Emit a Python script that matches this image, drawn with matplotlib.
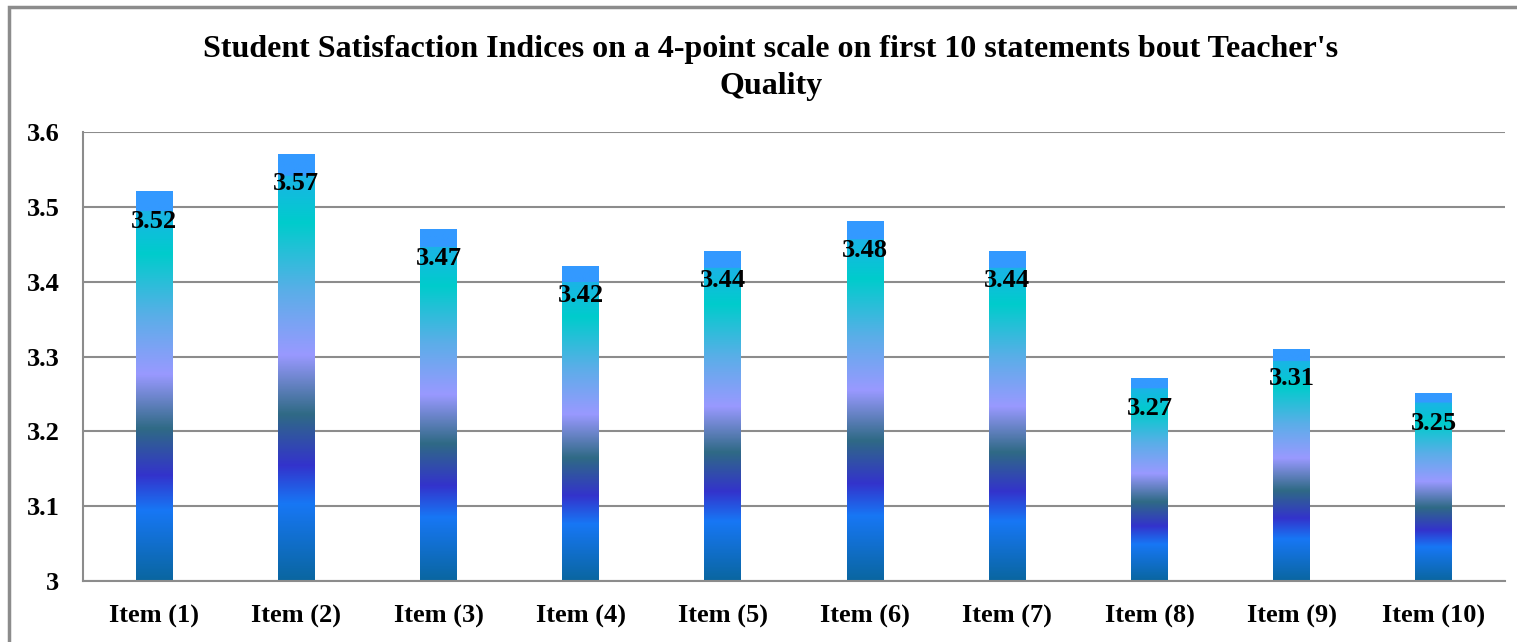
import numpy as np
import matplotlib.pyplot as plt
from matplotlib.colors import LinearSegmentedColormap
from matplotlib.patches import Rectangle

# Data
items = ['Item (1)', 'Item (2)', 'Item (3)', 'Item (4)', 'Item (5)',
         'Item (6)', 'Item (7)', 'Item (8)', 'Item (9)', 'Item (10)']
scores = [3.52, 3.57, 3.47, 3.42, 3.44, 3.48, 3.44, 3.27, 3.31, 3.25]
yticks = [3, 3.1, 3.2, 3.3, 3.4, 3.5, 3.6]

plt.rcParams['font.family'] = ['Liberation Serif', 'DejaVu Serif']
plt.rcParams['font.weight'] = 'bold'

# gradient along each bar, bottom to top
grad = LinearSegmentedColormap.from_list('bar', [
    (0.0, '#0a66a0'), (0.18, '#1777f5'), (0.27, '#3333cc'),
    (0.39, '#2f6a85'), (0.53, '#9999ff'), (0.68, '#5aaee8'),
    (0.84, '#00cccc'), (0.95, '#1ab4e6'), (0.951, '#3399ff'), (1.0, '#3399ff')])

fig = plt.figure(figsize=(15.17, 6.42), dpi=100)
ax = fig.add_axes([83 / 1517, 1 - 581 / 642, (1505 - 83) / 1517, (581 - 132) / 642])

# outer border
fig.patches.append(Rectangle((9 / 1517, -0.05), 1.2, 1 - 7 / 642 + 0.05,
                             transform=fig.transFigure, fill=False,
                             edgecolor='#8c8c8c', linewidth=2.5))

width = 0.26
g = np.linspace(0, 1, 256).reshape(-1, 1)
x = np.arange(len(items))
for xi, v in zip(x, scores):
    ax.imshow(g, cmap=grad, origin='lower', aspect='auto',
              extent=[xi - width / 2, xi + width / 2, 3, v], zorder=2)
    ax.annotate(f'{v:.2f}', (xi, v), xytext=(0, -21), textcoords='offset points',
                ha='center', va='center', fontsize=19, fontweight='bold', zorder=3)

ax.set_xlim(-0.5, len(items) - 0.5)
ax.set_ylim(3, 3.6)
ax.set_yticks(yticks)
ax.set_yticklabels([f'{t:g}' for t in yticks])
ax.set_xticks(x)
ax.set_xticklabels(items)
ax.tick_params(length=0, labelsize=19)
ax.tick_params(axis='x', pad=17)
ax.tick_params(axis='y', pad=17)
ax.grid(axis='y', color='#8c8c8c', linewidth=1.5)
ax.set_axisbelow(True)
for s in ['top', 'right']:
    ax.spines[s].set_visible(False)
for s in ['left', 'bottom']:
    ax.spines[s].set_color('#8c8c8c')
    ax.spines[s].set_linewidth(1.5)

fig.text(771 / 1517, 1 - 68 / 642,
         "Student Satisfaction Indices on a 4-point scale on first 10 statements bout Teacher's\nQuality",
         ha='center', va='center', fontsize=23, fontweight='bold', linespacing=1.32)

fig.savefig('out.png', dpi=100)
